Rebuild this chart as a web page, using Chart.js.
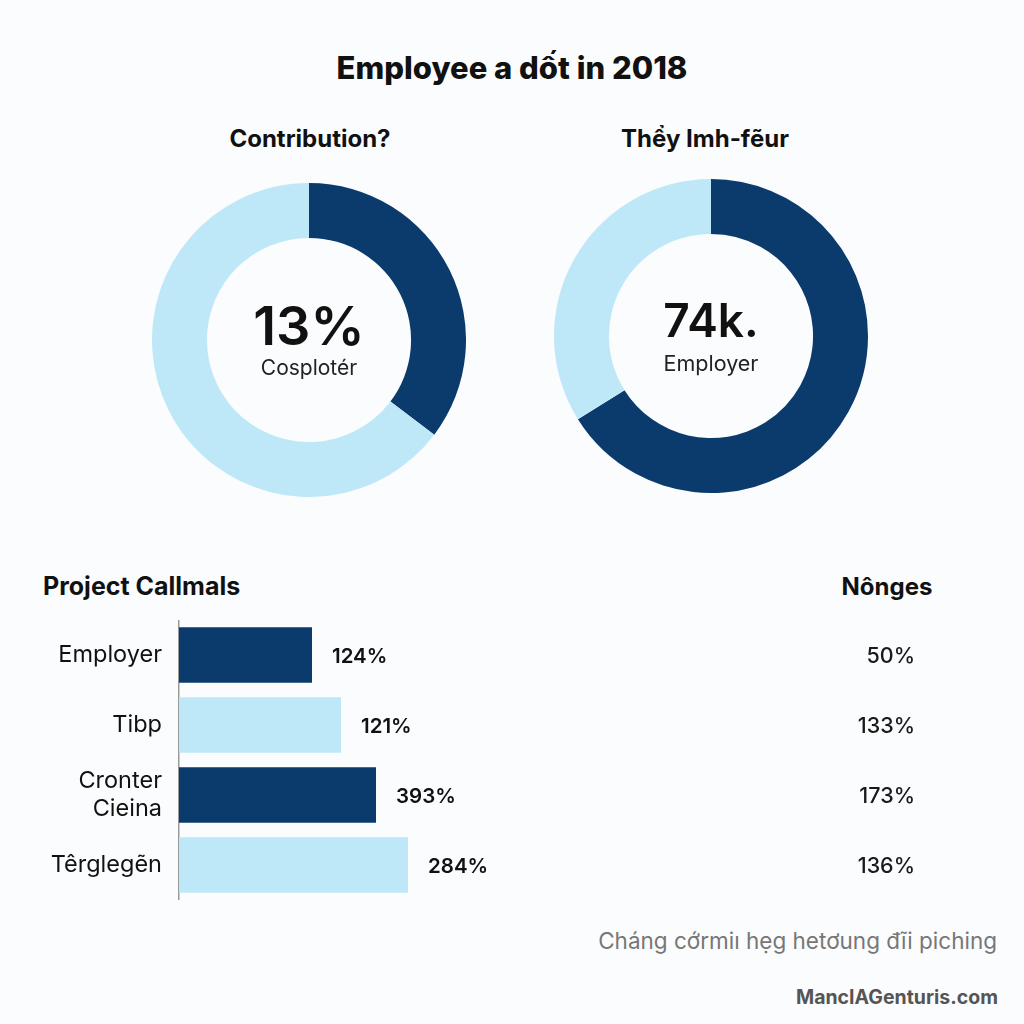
<!DOCTYPE html>
<html>
<head>
<meta charset="utf-8">
<script src="https://cdn.jsdelivr.net/npm/chart.js@4"></script>
<style>
  body { margin: 0; background: #fbfcfd; font-family: "Inter", "Lato", sans-serif; }
  #page { position: relative; width: 1024px; height: 1024px; overflow: hidden; }
  .txt { position: absolute; white-space: nowrap; color: #111; }
  canvas { position: absolute; }
</style>
</head>
<body>
<div id="page">
  <div class="txt" style="left:0;width:1024px;top:49px;text-align:center;font-size:31px;font-weight:800;">Employee a dốt in 2018</div>
  <div class="txt" style="left:160px;width:300px;top:124px;text-align:center;font-size:24px;font-weight:700;">Contribution?</div>
  <div class="txt" style="left:555px;width:300px;top:124px;text-align:center;font-size:24px;font-weight:700;">Thểy Imh-fẽur</div>

  <canvas id="donut1" width="314" height="314" style="left:152px;top:183px;"></canvas>
  <canvas id="donut2" width="314" height="314" style="left:554px;top:179px;"></canvas>

  <div class="txt" style="left:209px;width:200px;top:293px;text-align:center;font-size:54px;font-weight:600;" id="c1big"></div>
  <div class="txt" style="left:209px;width:200px;top:355px;text-align:center;font-size:21px;font-weight:400;color:#222;" id="c1small"></div>
  <div class="txt" style="left:611px;width:200px;top:292px;text-align:center;font-size:46px;font-weight:600;" id="c2big"></div>
  <div class="txt" style="left:611px;width:200px;top:350px;text-align:center;font-size:21.5px;font-weight:400;color:#222;" id="c2small"></div>

  <div class="txt" style="left:43px;top:571px;font-size:25px;font-weight:700;">Project Callmals</div>
  <div class="txt" style="left:787px;width:200px;top:572px;text-align:center;font-size:24px;font-weight:700;">Nônges</div>

  <canvas id="bars" width="1024" height="280" style="left:0;top:620px;"></canvas>

  <div class="txt" style="right:27px;top:927px;font-size:22.5px;color:#777;">Cháng cớrmiı hẹg hetơung đĩi piching</div>
  <div class="txt" style="right:26px;top:985px;font-size:19.5px;font-weight:700;color:#555;">MancIAGenturis.com</div>
</div>

<script>
// colours
var DARK = "#0b3a6d";
var LIGHT = "#bee8f8";

// donut data (dark share first, starting at 12 o'clock)
var donut1Values = [35.3, 64.7];
var donut2Values = [66.1, 33.9];
var donut1Center = ["13%", "Cosplotér"];
var donut2Center = ["74k.", "Employer"];

// bar data
var barLabels = ["Employer", "Tibp", ["Cronter", "Cieina"], "Têrglegẽn"];
var barValues = [133, 162, 197, 229];
var barColors = [DARK, LIGHT, DARK, LIGHT];
var barValueText = ["124%", "121%", "393%", "284%"];
var rightValueText = ["50%", "133%", "173%", "136%"];
var xMax = 845;

document.getElementById("c1big").textContent = donut1Center[0];
document.getElementById("c1small").textContent = donut1Center[1];
document.getElementById("c2big").textContent = donut2Center[0];
document.getElementById("c2small").textContent = donut2Center[1];

function renderDonut(id, values) {
    var ctx = document.getElementById(id).getContext('2d');
    new Chart(ctx, {
        type: 'doughnut',
        data: {
            labels: ["a", "b"],
            datasets: [{
                data: values,
                backgroundColor: [DARK, LIGHT],
                borderWidth: 0
            }]
        },
        options: {
            responsive: false,
            animation: false,
            cutout: '65%',
            plugins: { legend: { display: false }, tooltip: { enabled: false } }
        }
    });
}

renderDonut("donut1", donut1Values);
renderDonut("donut2", donut2Values);

var barTextPlugin = {
    id: 'barText',
    afterDatasetsDraw: function (chart) {
        var ctx = chart.ctx;
        var meta = chart.getDatasetMeta(0);
        ctx.save();
        ctx.textBaseline = 'middle';
        for (var i = 0; i < meta.data.length; i++) {
            var bar = meta.data[i];
            ctx.fillStyle = '#111';
            ctx.textAlign = 'left';
            ctx.font = '600 20.5px Inter, Lato, sans-serif';
            ctx.fillText(barValueText[i], bar.x + 20, bar.y + 2);
            ctx.textAlign = 'right';
            ctx.font = '500 21.5px Inter, Lato, sans-serif';
            ctx.fillStyle = '#1a1a1a';
            ctx.fillText(rightValueText[i], 915, bar.y + 2);
        }
        ctx.restore();
    }
};

new Chart(document.getElementById("bars").getContext('2d'), {
    type: 'bar',
    data: {
        labels: barLabels,
        datasets: [{
            data: barValues,
            backgroundColor: barColors,
            borderWidth: 0,
            barPercentage: 0.79,
            categoryPercentage: 1
        }]
    },
    options: {
        indexAxis: 'y',
        responsive: false,
        animation: false,
        layout: { padding: 0 },
        plugins: { legend: { display: false }, tooltip: { enabled: false } },
        scales: {
            x: { display: false, min: 0, max: xMax },
            y: {
                afterFit: function (scale) {
                    scale.width = 179;
                    scale.paddingTop = 0;
                    scale.paddingBottom = 0;
                },
                grid: { display: false, drawTicks: false },
                border: { display: true, color: '#9a9a9a', width: 1.5 },
                ticks: {
                    padding: 17,
                    color: '#111',
                    font: { size: 23.5, family: 'Inter, Lato, sans-serif', lineHeight: 1.2 }
                }
            }
        }
    },
    plugins: [barTextPlugin]
});
</script>
</body>
</html>
